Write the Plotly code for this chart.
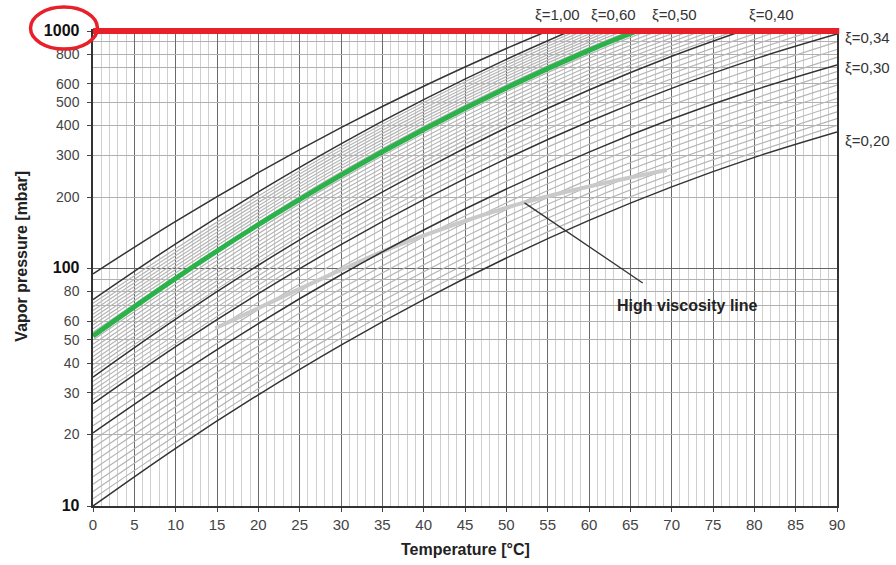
import plotly.graph_objects as go

# ---------------- data ----------------
# dark concentration curves (temperature in degC, vapour pressure in mbar)
T_dark = [0, 10, 20, 30, 40, 50, 60, 70, 80, 90]
P_xi020 = [10.0, 17.5, 29.4, 47.6, 74.0, 110.7, 159.4, 220.7, 293.8, 375.8]
P_xi030 = [20.3, 35.1, 58.6, 94.1, 145.3, 216.1, 309.2, 425.8, 564.2, 719.5]
P_xi034 = [27.0, 46.9, 78.3, 126.0, 194.9, 290.2, 415.9, 573.5, 761.1, 970.5]
T_xi040 = [0, 10, 20, 30, 40, 50, 60, 70, 78.5]
P_xi040 = [34.9, 61.2, 103.2, 167.4, 261.0, 391.3, 564.1, 782.3, 1000]
T_xi050 = [0, 10, 20, 30, 40, 50, 60, 65.8]
P_xi050 = [52.0, 90.9, 152.9, 247.4, 384.8, 575.9, 828.7, 1000]
T_xi060 = [0, 10, 20, 30, 40, 50, 57.7]
P_xi060 = [74.0, 127.1, 210.2, 335.0, 514.0, 759.7, 1000]
T_xi100 = [0, 10, 20, 30, 40, 50, 55]
P_xi100 = [95.0, 157.9, 253.1, 391.7, 585.1, 843.8, 1000]

# light intermediate curves, pressure at T = 0, 30, 60, 90 degC
T_light = [0, 30, 60, 90]
light_020_030 = [
    [10.73, 50.9, 170.3, 401], [11.52, 54.5, 182.0, 428], [12.36, 58.4, 194.4, 457],
    [13.27, 62.5, 207.7, 487], [14.24, 66.9, 222.0, 520], [15.29, 71.6, 237.2, 555],
    [16.41, 76.7, 253.5, 592], [17.61, 82.1, 270.7, 632], [18.90, 87.9, 289.3, 674],
]
light_030_034 = [
    [21.78, 101.2, 333.0, 775], [23.39, 108.9, 358.5, 836], [25.12, 117.1, 386.2, 901],
]
light_034_040 = [
    [28.17, 132.1, 437.7, 1024], [29.40, 138.5, 460.4, 1080], [30.69, 145.2, 484.4, 1139],
    [32.04, 152.3, 509.7, 1201], [33.44, 159.6, 536.3, 1267],
]
light_040_050 = [
    [36.33, 174.1, 586.4, 1388], [37.81, 181.0, 609.4, 1442], [39.35, 188.2, 633.3, 1497],
    [40.95, 195.6, 658.1, 1555], [42.61, 203.5, 683.9, 1616], [44.35, 211.6, 710.7, 1679],
    [46.15, 220.0, 738.6, 1744], [48.02, 228.8, 767.4, 1811], [49.97, 237.9, 797.5, 1882],
]
light_050_060 = [
    [53.87, 255.0, 851.1, 2001], [55.80, 262.9, 874.1, 2049], [57.80, 271.0, 897.4, 2099],
    [59.87, 279.3, 921.7, 2150], [62.02, 287.9, 946.5, 2203], [64.24, 296.8, 971.9, 2256],
    [66.55, 306.0, 998.2, 2310], [68.93, 315.3, 1025, 2366], [71.40, 325.1, 1053, 2423],
]

# high viscosity line and its pointer
T_visc = [14.8, 28.7, 37.1, 52.0, 69.4]
P_visc = [56.0, 94.0, 126.0, 189.0, 260.0]
T_pointer = [52.2, 66.5]
P_pointer = [189.0, 86.9]

# axis ticks
x_ticks = list(range(0, 95, 5))
y_ticks = [10, 20, 30, 40, 50, 60, 80, 100, 200, 300, 400, 500, 600, 800, 1000]
y_bold = [10, 100, 1000]
y_minor = [70, 90, 700, 900]

# ---------------- figure ----------------
FONT = "Liberation Sans, Arial, sans-serif"
DARK = "#333333"
LIGHT = "#b5b5b5"

fig = go.Figure()

# dark 100 mbar grid line
fig.add_trace(go.Scatter(x=[0, 90], y=[100, 100], mode="lines",
                         line=dict(color="#666666", width=1.2), hoverinfo="skip"))

for group in (light_020_030, light_030_034, light_034_040, light_040_050, light_050_060):
    for vals in group:
        fig.add_trace(go.Scatter(x=T_light, y=vals, mode="lines",
                                 line=dict(color=LIGHT, width=1.2, shape="spline"),
                                 hoverinfo="skip"))

fig.add_trace(go.Scatter(x=T_visc, y=P_visc, mode="lines",
                         line=dict(color="#c9c9c9", width=4, shape="spline"),
                         hoverinfo="skip"))

for tx, py in ((T_dark, P_xi020), (T_dark, P_xi030), (T_dark, P_xi034),
               (T_xi040, P_xi040), (T_xi060, P_xi060), (T_xi100, P_xi100)):
    fig.add_trace(go.Scatter(x=tx, y=py, mode="lines",
                             line=dict(color=DARK, width=1.5, shape="spline"),
                             hoverinfo="skip"))

fig.add_trace(go.Scatter(x=T_xi050, y=P_xi050, mode="lines",
                         line=dict(color="#2cb24a", width=5, shape="spline"),
                         hoverinfo="skip"))

fig.add_trace(go.Scatter(x=T_pointer, y=P_pointer, mode="lines",
                         line=dict(color="#333333", width=1.3), hoverinfo="skip"))

ytext = []
for v in y_ticks:
    if v in y_bold:
        ytext.append('<span style="font-size:16px; fill:#111111"><b>%d</b></span>' % v)
    else:
        ytext.append(str(v))

fig.update_xaxes(
    range=[0, 90], tickmode="array", tickvals=x_ticks,
    showgrid=True, gridcolor="#6a6a6a", gridwidth=1,
    minor=dict(dtick=1, showgrid=True, gridcolor="#cfcfcf", gridwidth=1, ticks=""),
    showline=True, linecolor="#333333", linewidth=1.5, mirror=True,
    ticks="outside", ticklen=4, tickcolor="#444444",
    tickfont=dict(family=FONT, size=15, color="#444444"),
    zeroline=False,
)
fig.update_yaxes(
    type="log", range=[1, 3], tickmode="array", tickvals=y_ticks, ticktext=ytext,
    showgrid=True, gridcolor="#b0b0b0", gridwidth=1,
    minor=dict(tickmode="array", tickvals=y_minor, showgrid=True,
               gridcolor="#b0b0b0", gridwidth=1, ticks=""),
    showline=True, linecolor="#333333", linewidth=1.5, mirror=True,
    ticks="outside", ticklen=4, tickcolor="#444444", ticklabelstandoff=5,
    tickfont=dict(family=FONT, size=14, color="#444444"),
    zeroline=False,
)

RED = "#e8202a"
fig.add_shape(type="line", xref="paper", yref="paper", x0=0.0, x1=1.003, y0=1, y1=1,
              line=dict(color=RED, width=6))
fig.add_shape(type="circle", xref="paper", yref="paper",
              x0=-0.084, x1=0.006, y0=0.962, y1=1.0505,
              line=dict(color=RED, width=3.5))

ann_font = dict(family=FONT, size=15, color="#333333")
top_labels = [("ξ=1,00", 0.6237), ("ξ=0,60", 0.699), ("ξ=0,50", 0.782), ("ξ=0,40", 0.9126)]
for txt, xp in top_labels:
    fig.add_annotation(x=xp, y=1.0337, xref="paper", yref="paper", text=txt,
                       showarrow=False, xanchor="center", yanchor="middle", font=ann_font)
right_labels = [("ξ=0,34", 0.9853), ("ξ=0,30", 0.9242), ("ξ=0,20", 0.7705)]
for txt, yp in right_labels:
    fig.add_annotation(x=1.008, y=yp, xref="paper", yref="paper", text=txt,
                       showarrow=False, xanchor="left", yanchor="middle", font=ann_font)

fig.add_annotation(x=0.7016, y=0.423, xref="paper", yref="paper",
                   text="<b>High viscosity line</b>", showarrow=False,
                   xanchor="left", yanchor="middle",
                   font=dict(family=FONT, size=16, color="#222222"))
fig.add_annotation(x=-0.0954, y=0.525, xref="paper", yref="paper",
                   text="<b>Vapor pressure [mbar]</b>", showarrow=False, textangle=-90,
                   xanchor="center", yanchor="middle",
                   font=dict(family=FONT, size=16, color="#222222"))
fig.add_annotation(x=0.5, y=-0.0926, xref="paper", yref="paper",
                   text="<b>Temperature [°C]</b>", showarrow=False,
                   xanchor="center", yanchor="middle",
                   font=dict(family=FONT, size=16, color="#222222"))

fig.update_layout(
    width=896, height=565, autosize=False,
    margin=dict(l=93, r=59, t=31, b=59),
    paper_bgcolor="white", plot_bgcolor="white",
    showlegend=False,
    font=dict(family=FONT),
)

fig.write_html("out.html")
